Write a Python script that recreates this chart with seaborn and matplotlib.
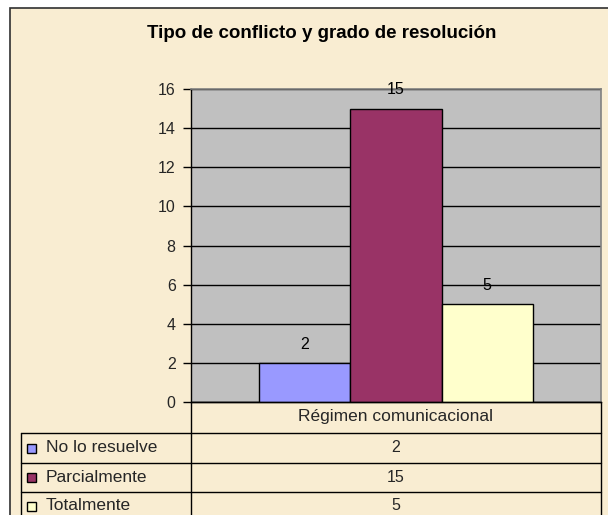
import numpy as np
import pandas as pd
import matplotlib
matplotlib.use("Agg")
import matplotlib.pyplot as plt
import seaborn as sns
from matplotlib.patches import Rectangle
from matplotlib.lines import Line2D

# ---- data ----
title = "Tipo de conflicto y grado de resolución"
categories = ["Régimen comunicacional"]
series = ["No lo resuelve", "Parcialmente", "Totalmente"]
values = [2, 15, 5]
colors = ["#9999FF", "#993366", "#FFFFCC"]
yticks = [0, 2, 4, 6, 8, 10, 12, 14, 16]

df = pd.DataFrame({"categoria": categories * len(series), "serie": series, "valor": values})

sns.set_theme(style="white")
plt.rcParams["font.family"] = ["Liberation Sans", "DejaVu Sans"]

W, H = 608, 515
fig = plt.figure(figsize=(W / 100, H / 100), dpi=100)
bg = "#F9EDD2"
fig.patch.set_facecolor("white")

def fx(x):
    return x / W

def fy(y):
    return 1 - y / H

# chart area background + border
fig.patches.append(Rectangle((fx(10), fy(530)), fx(640) - fx(10), fy(8) - fy(530),
                             transform=fig.transFigure, facecolor=bg,
                             edgecolor="#303030", linewidth=1.2, zorder=-5))

# plot area
L, R, T, B = 191, 601, 89, 402
ax = fig.add_axes([fx(L), fy(B), fx(R) - fx(L), fy(T) - fy(B)])
ax.set_zorder(1)
ax.set_facecolor("#C0C0C0")
sns.barplot(data=df, x="categoria", y="valor", hue="serie", hue_order=series,
            palette=colors, saturation=1, width=0.668, gap=0, edgecolor="black",
            linewidth=1, legend=False, ax=ax, zorder=3)
ax.set_xlim(-0.5, 0.5)
ax.set_ylim(0, 16)
ax.set_yticks(yticks)
ax.set_yticklabels([str(t) for t in yticks], fontsize=11.5)
ax.yaxis.grid(True, color="black", linewidth=1)
ax.set_axisbelow(True)
ax.tick_params(axis="y", direction="out", length=6, width=1, color="black", pad=5, left=True)
ax.set_xticks([])
ax.set_xlabel("")
ax.set_ylabel("")
for s in ["top", "right"]:
    ax.spines[s].set_color("#808080")
    ax.spines[s].set_linewidth(1.2)
for s in ["left", "bottom"]:
    ax.spines[s].set_color("black")
    ax.spines[s].set_linewidth(1)

for cont in ax.containers:
    ax.bar_label(cont, fmt="%g", padding=8, fontsize=11.5, color="black")

# title
fig.text(fx(322), fy(33), title, ha="center", va="center", fontsize=13.5,
         fontweight="bold", color="black")

# data table
lines = [
    ((L, R), (B, B)),
    ((21, R), (433, 433)),
    ((21, R), (463, 463)),
    ((21, R), (492, 492)),
    ((L, L), (B, 520)),
    ((R, R), (B, 520)),
    ((21, 21), (433, 520)),
]
for xs, ys in lines:
    fig.add_artist(Line2D([fx(xs[0]), fx(xs[1])], [fy(ys[0]), fy(ys[1])],
                          transform=fig.transFigure, color="black", linewidth=1))

fig.text(fx((L + R) / 2), fy(417), categories[0], ha="center", va="center", fontsize=12.5)
row_centers = [448, 477, 506]
for name, val, col, yc in zip(series, values, colors, row_centers):
    fig.patches.append(Rectangle((fx(27), fy(yc + 4.5)), fx(9), fy(0) - fy(9),
                                 transform=fig.transFigure, facecolor=col,
                                 edgecolor="black", linewidth=1, zorder=2))
    fig.text(fx(46), fy(yc), name, ha="left", va="center", fontsize=12.5)
    fig.text(fx((L + R) / 2), fy(yc), str(val), ha="center", va="center", fontsize=11.5)

fig.savefig("out.png", dpi=100, facecolor=fig.get_facecolor())
